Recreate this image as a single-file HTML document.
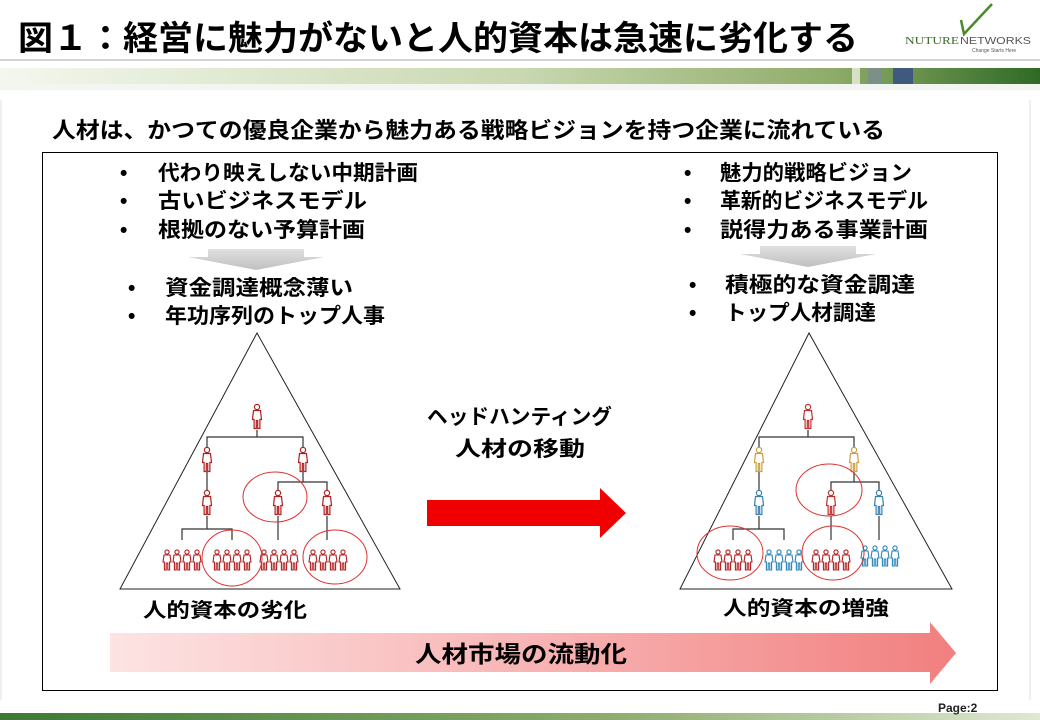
<!DOCTYPE html>
<html><head><meta charset="utf-8"><style>
body{margin:0;width:1040px;height:720px;overflow:hidden;background:#fff;font-family:"Liberation Sans","Noto Sans CJK JP",sans-serif;}
svg{display:block}
</style></head><body>
<svg width="1040" height="720" viewBox="0 0 1040 720" xmlns="http://www.w3.org/2000/svg" font-family="Liberation Sans, Noto Sans CJK JP, sans-serif">
<defs>
<linearGradient id="hb" x1="0" x2="1" y1="0" y2="0">
<stop offset="0" stop-color="#f4f7ee"/><stop offset="0.5" stop-color="#c9d8b0"/><stop offset="0.8" stop-color="#8fac6a"/><stop offset="1" stop-color="#2f6a24"/></linearGradient>
<linearGradient id="fb" x1="0" x2="1" y1="0" y2="0">
<stop offset="0" stop-color="#3c7a33"/><stop offset="0.6" stop-color="#8fae70"/><stop offset="1" stop-color="#dfe8d2"/></linearGradient>
<linearGradient id="pk" x1="0" x2="1" y1="0" y2="0">
<stop offset="0" stop-color="#fde3e3"/><stop offset="0.5" stop-color="#f8b4b4"/><stop offset="1" stop-color="#f27f7f"/></linearGradient>
<linearGradient id="ga" x1="0" x2="0" y1="0" y2="1">
<stop offset="0" stop-color="#e0e0e0"/><stop offset="1" stop-color="#c0c0c0"/></linearGradient>
<g id="p"><circle cx="0" cy="-10" r="2.6" fill="#fff" stroke-width="1.2"/><path d="M-3.5,-6.5 h7 l1,9 h-1.6 v9 h-2.2 v-8 h-1.4 v8 h-2.2 v-9 h-1.6 z" fill="#fff" stroke-width="1.2"/></g>
<g id="s"><circle cx="0" cy="-8" r="2.1" fill="#fff" stroke-width="1.1"/><path d="M-3,-5 h6 l1,7 h-1.4 v8 h-1.8 v-7 h-1.6 v7 h-1.8 v-8 h-1.4 z" fill="#fff" stroke-width="1.1"/></g>
</defs>
<text x="18" y="50" font-size="34" font-weight="bold" fill="#000" textLength="840" lengthAdjust="spacingAndGlyphs">図１：経営に魅力がないと人的資本は急速に劣化する</text>
<line x1="0" y1="60" x2="1040" y2="60" stroke="#aaa" stroke-width="1"/>
<rect x="0" y="68" width="1040" height="16" fill="url(#hb)"/>
<rect x="852" y="68" width="8" height="16" fill="#d7e0c4"/><rect x="868" y="68" width="14" height="16" fill="#7d8f86"/><rect x="893" y="68" width="20" height="16" fill="#3f5a7e"/>
<rect x="0" y="84" width="1040" height="6" fill="#f3f5f0"/>
<path d="M961,20 l3,14 l28,-30" fill="none" stroke="#4a8a2a" stroke-width="2.5"/>
<text x="905" y="44" font-size="10" font-family="Liberation Serif, serif" fill="#3a6a2a" textLength="54" lengthAdjust="spacingAndGlyphs">NUTURE</text>
<text x="960" y="44" font-size="10" fill="#555" textLength="71" lengthAdjust="spacingAndGlyphs">NETWORKS</text>
<text x="972" y="52" font-size="5" fill="#555">Change Starts Here</text>
<rect x="0" y="713" width="1040" height="7" fill="url(#fb)"/>
<text x="938" y="712" font-size="12" font-weight="bold" fill="#222">Page:2</text>
<g stroke="#e2e2e2" stroke-width="1">
<line x1="1" y1="100" x2="1" y2="700"/><line x1="1030" y1="100" x2="1030" y2="700"/>
</g>
<text x="52" y="138" font-size="22" font-weight="bold" fill="#000" textLength="833" lengthAdjust="spacingAndGlyphs">人材は、かつての優良企業から魅力ある戦略ビジョンを持つ企業に流れている</text>
<rect x="42.5" y="152.5" width="955" height="538" fill="none" stroke="#000" stroke-width="1"/>
<g font-size="21" font-weight="bold" fill="#000" lengthAdjust="spacingAndGlyphs">
<text x="120" y="180">•</text><text x="158" y="180" textLength="260" lengthAdjust="spacingAndGlyphs">代わり映えしない中期計画</text>
<text x="120" y="208">•</text><text x="158" y="208" textLength="209" lengthAdjust="spacingAndGlyphs">古いビジネスモデル</text>
<text x="120" y="237">•</text><text x="158" y="237" textLength="207" lengthAdjust="spacingAndGlyphs">根拠のない予算計画</text>
<text x="128" y="295">•</text><text x="165" y="295" textLength="188" lengthAdjust="spacingAndGlyphs">資金調達概念薄い</text>
<text x="128" y="323">•</text><text x="165" y="323" textLength="220" lengthAdjust="spacingAndGlyphs">年功序列のトップ人事</text>
<text x="684" y="180">•</text><text x="720" y="180" textLength="192" lengthAdjust="spacingAndGlyphs">魅力的戦略ビジョン</text>
<text x="684" y="208">•</text><text x="720" y="208" textLength="208" lengthAdjust="spacingAndGlyphs">革新的ビジネスモデル</text>
<text x="684" y="237">•</text><text x="720" y="237" textLength="208" lengthAdjust="spacingAndGlyphs">説得力ある事業計画</text>
<text x="689" y="292">•</text><text x="725" y="292" textLength="190" lengthAdjust="spacingAndGlyphs">積極的な資金調達</text>
<text x="689" y="320">•</text><text x="725" y="320" textLength="151" lengthAdjust="spacingAndGlyphs">トップ人材調達</text>
</g>
<path d="M208,249 h96 v8 h20 l-68,13 l-68,-13 h20 z" fill="url(#ga)"/>
<path d="M760,246 h96 v8 h20 l-68,13 l-68,-13 h20 z" fill="url(#ga)"/>
<g font-size="21" font-weight="bold" fill="#000">
<text x="427" y="424" textLength="185" lengthAdjust="spacingAndGlyphs">ヘッドハンティング</text>
<text x="455" y="456" textLength="130" lengthAdjust="spacingAndGlyphs">人材の移動</text>
</g>
<path d="M427,500 h173 v-12 l26,25 l-26,25 v-12 h-173 z" fill="#f00000"/>
<path d="M257,333 L120,589 H400 Z" fill="none" stroke="#222" stroke-width="1"/>
<path d="M809,333 L680,589 H952 Z" fill="none" stroke="#222" stroke-width="1"/>
<g stroke="#333" stroke-width="1.2" fill="none">
<path d="M257,430 v7 M207,447 v-10 h96 v10"/>
<path d="M207,472 v18"/><path d="M303,472 v10 M278,492 v-10 h49 v10"/>
<path d="M207,516 v13 M182,540 v-11 h50 v11"/><path d="M278,516 v24"/><path d="M327,516 v24"/>
</g>
<g stroke="#b02020">
<use href="#p" x="257" y="417"/><use href="#p" x="207" y="460"/><use href="#p" x="303" y="460"/>
<use href="#p" x="207" y="503"/><use href="#p" x="278" y="503"/><use href="#p" x="327" y="503"/>
<use href="#s" x="167" y="560"/><use href="#s" x="177" y="560"/><use href="#s" x="187" y="560"/><use href="#s" x="197" y="560"/>
<use href="#s" x="217" y="560"/><use href="#s" x="227" y="560"/><use href="#s" x="237" y="560"/><use href="#s" x="247" y="560"/>
<use href="#s" x="264" y="560"/><use href="#s" x="274" y="560"/><use href="#s" x="284" y="560"/><use href="#s" x="294" y="560"/>
<use href="#s" x="313" y="560"/><use href="#s" x="323" y="560"/><use href="#s" x="333" y="560"/><use href="#s" x="343" y="560"/>
</g>
<g fill="none" stroke="#e03030" stroke-width="1">
<ellipse cx="275" cy="497" rx="32" ry="25"/><ellipse cx="232" cy="558" rx="30" ry="28"/><ellipse cx="335" cy="557" rx="32" ry="27"/>
</g>
<g stroke="#333" stroke-width="1.2" fill="none">
<path d="M808,430 v7 M759,447 v-10 h95 v10"/>
<path d="M759,472 v18"/><path d="M854,472 v10 M831,492 v-10 h48 v10"/>
<path d="M759,516 v13 M733,540 v-11 h51 v11"/><path d="M831,516 v24"/><path d="M879,516 v24"/>
</g>
<use href="#p" x="808" y="417" stroke="#c03030"/>
<use href="#p" x="759" y="460" stroke="#c9a040"/><use href="#p" x="854" y="460" stroke="#c9a040"/>
<use href="#p" x="759" y="503" stroke="#3a7fb0"/><use href="#p" x="831" y="503" stroke="#c03030"/><use href="#p" x="879" y="503" stroke="#3a7fb0"/>
<g stroke="#b02020">
<use href="#s" x="718" y="560"/><use href="#s" x="728" y="560"/><use href="#s" x="738" y="560"/><use href="#s" x="748" y="560"/>
<use href="#s" x="816" y="560"/><use href="#s" x="826" y="560"/><use href="#s" x="836" y="560"/><use href="#s" x="846" y="560"/>
</g>
<g stroke="#2a86b8">
<use href="#s" x="769" y="560"/><use href="#s" x="779" y="560"/><use href="#s" x="789" y="560"/><use href="#s" x="799" y="560"/>
<use href="#s" x="865" y="556"/><use href="#s" x="875" y="556"/><use href="#s" x="885" y="556"/><use href="#s" x="895" y="556"/>
</g>
<g fill="none" stroke="#e03030" stroke-width="1">
<ellipse cx="829" cy="490" rx="33" ry="26"/><ellipse cx="730" cy="553" rx="33" ry="27"/><ellipse cx="833" cy="553" rx="31" ry="27"/>
</g>
<g font-size="20" font-weight="bold" fill="#000">
<text x="143" y="617" textLength="164" lengthAdjust="spacingAndGlyphs">人的資本の劣化</text>
<text x="723" y="615" textLength="166" lengthAdjust="spacingAndGlyphs">人的資本の増強</text>
</g>
<path d="M110,633 H930 V622 L956,653 L930,684 V672 H110 Z" fill="url(#pk)"/>
<text x="415" y="662" font-size="23" font-weight="bold" fill="#000" textLength="212" lengthAdjust="spacingAndGlyphs">人材市場の流動化</text>
</svg>
</body></html>
